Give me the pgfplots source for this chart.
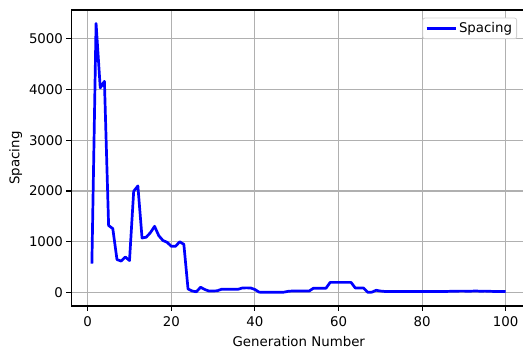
\documentclass[border=0pt]{standalone}
\usepackage{pgfplots}
\pgfplotsset{compat=1.18}
\usepackage{fontspec}
\setmainfont{DejaVu Sans}
\definecolor{gridgray}{HTML}{B0B0B0}
\begin{document}
\begin{tikzpicture}
\clip (-71.2bp,-42bp) rectangle (451.8bp,306bp);
\begin{axis}[
  at={(0,0)}, anchor=south west,
  scale only axis,
  width=455.2bp, height=296bp,
  xmin=-3.95, xmax=104.95,
  ymin=-265, ymax=5565,
  xtick={0,20,40,60,80,100},
  ytick={0,1000,2000,3000,4000,5000},
  /pgf/number format/assume math mode=true,
  /pgf/number format/1000 sep={},
  font=\fontsize{13.4}{16}\selectfont,
  tick label style={font=\fontsize{13.4}{16}\selectfont},
  xticklabel style={yshift=-2bp},
  label style={font=\fontsize{13.4}{16}\selectfont},
  xlabel={Generation Number},
  xlabel style={yshift=-3bp},
  ylabel={Spacing},
  grid=major,
  major grid style={gridgray, line width=1.07bp},
  axis line style={line width=1.07bp},
  tick style={black, line width=1.07bp},
  tick align=outside,
  major tick length=4.7bp,
  xtick pos=bottom, ytick pos=left,
  legend style={at={(rel axis cs:1,1)}, anchor=north east, xshift=-9.4bp, yshift=-7.7bp,
    draw=gray!35, rounded corners=2pt, line width=0.8bp, font=\fontsize{13.4}{16}\selectfont, inner sep=2.5pt},
  legend cell align=left,
  legend image code/.code={\draw[#1, line width=2.7bp] (0bp,0bp) -- (29bp,0bp);},
]
\addplot[blue, line width=2.7bp, line join=round] coordinates {
(1,570) (2,5300) (3,4030) (4,4160) (5,1320) (6,1260) (7,650) (8,620) (9,700) (10,630)
(11,1995) (12,2100) (13,1075) (14,1090) (15,1180) (16,1305) (17,1120) (18,1025) (19,990) (20,910)
(21,910) (22,1000) (23,950) (24,70) (25,30) (26,15) (27,105) (28,60) (29,30) (30,30)
(31,35) (32,65) (33,65) (34,65) (35,65) (36,65) (37,90) (38,92) (39,90) (40,60)
(41,8) (42,6) (43,5) (44,5) (45,5) (46,5) (47,8) (48,25) (49,30) (50,30)
(51,30) (52,30) (53,30) (54,85) (55,85) (56,85) (57,85) (58,200) (59,200) (60,200)
(61,200) (62,200) (63,200) (64,90) (65,90) (66,88) (67,5) (68,8) (69,45) (70,30)
(71,22) (72,20) (73,20) (74,20) (75,20) (76,20) (77,20) (78,20) (79,20) (80,20)
(81,20) (82,20) (83,20) (84,20) (85,20) (86,22) (87,25) (88,25) (89,28) (90,28)
(91,25) (92,28) (93,30) (94,25) (95,28) (96,25) (97,22) (98,20) (99,20) (100,20)
};
\addlegendentry{Spacing}
\end{axis}
\end{tikzpicture}
\end{document}
